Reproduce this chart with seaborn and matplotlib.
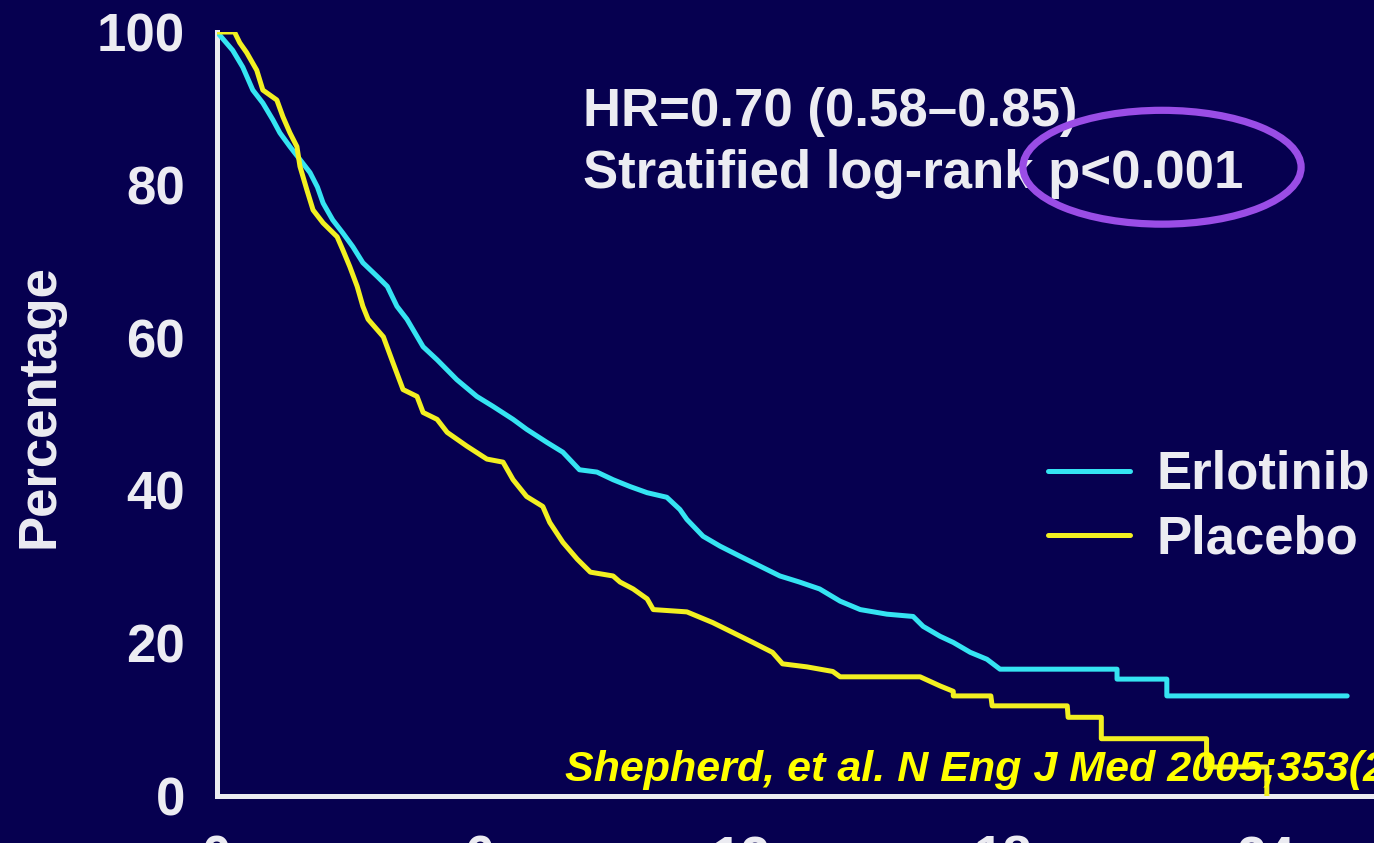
import numpy as np
import pandas as pd
import matplotlib
matplotlib.use("Agg")
import matplotlib.pyplot as plt
from matplotlib.patches import Ellipse
import seaborn as sns

# ---- data: curve vertices (months, % surviving) ----
erlotinib_months = [0, 0.36, 0.59, 0.82, 1.05, 1.28, 1.44, 1.67, 1.90, 2.13, 2.30, 2.43,
                    2.65, 2.88, 3.11, 3.34, 3.67, 3.90, 4.12, 4.35, 4.72, 5.04, 5.49,
                    5.95, 6.32, 6.78, 7.09, 7.55, 7.92, 8.30, 8.70, 9.07, 9.46, 9.85,
                    10.30, 10.60, 10.76, 11.13, 11.52, 11.97, 12.43, 12.89, 13.34,
                    13.80, 14.27, 14.73, 15.34, 15.94, 16.17, 16.56, 16.86, 17.25,
                    17.63, 17.93, 20.61, 20.61, 21.75, 21.75, 25.88]
erlotinib_pct = [100, 97.6, 95.4, 92.4, 90.7, 88.5, 86.8, 85.0, 83.3, 81.6, 79.7, 77.6,
                 75.4, 73.7, 71.9, 69.8, 68.0, 66.7, 64.1, 62.4, 58.8, 57.1, 54.5,
                 52.3, 51.0, 49.3, 48.0, 46.3, 45.0, 42.7, 42.4, 41.4, 40.5, 39.7,
                 39.1, 37.5, 36.2, 34.0, 32.7, 31.4, 30.1, 28.8, 28.0,
                 27.1, 25.5, 24.4, 23.8, 23.5, 22.2, 20.9, 20.1, 18.8,
                 17.9, 16.6, 16.6, 15.3, 15.3, 13.1, 13.1]

placebo_months = [0, 0.40, 0.52, 0.68, 0.91, 1.05, 1.37, 1.51, 1.67, 1.83, 1.90, 2.06, 2.20,
                  2.43, 2.75, 2.88, 3.04, 3.21, 3.34, 3.46, 3.81, 4.03, 4.26, 4.58,
                  4.72, 5.04, 5.27, 5.72, 6.18, 6.55, 6.78, 7.09, 7.46, 7.62, 7.92,
                  8.25, 8.55, 9.07, 9.23, 9.53, 9.85, 9.99, 10.76, 11.35, 11.74,
                  12.27, 12.72, 12.95, 13.51, 14.10, 14.27, 16.10, 16.56, 16.86,
                  16.86, 17.72, 17.75, 19.47, 19.49, 20.25, 20.25, 22.66, 22.66,
                  24.04, 24.04]
placebo_pct = [100, 100, 98.6, 97.3, 95.0, 92.4, 91.1, 88.9, 86.8, 85.0, 82.4, 79.3, 76.7,
               75.0, 73.2, 71.5, 69.3, 66.7, 64.1, 62.4, 60.1, 56.7, 53.2, 52.3,
               50.2, 49.3, 47.6, 45.8, 44.1, 43.7, 41.4, 39.2, 37.9, 35.8, 33.2,
               31.0, 29.3, 28.8, 28.0, 27.1, 25.8, 24.4, 24.1, 22.7, 21.6,
               20.1, 18.8, 17.3, 16.9, 16.3, 15.6, 15.6, 14.4, 13.7,
               13.1, 13.1, 11.8, 11.8, 10.3, 10.3, 7.5, 7.5, 3.8,
               3.8, 0.0]

arms = ["Erlotinib", "Placebo"]
x_ticks = [0, 6, 12, 18, 24]
y_ticks = [0, 20, 40, 60, 80, 100]
hr_text = "HR=0.70 (0.58\u20130.85)"
p_text = "Stratified log-rank p<0.001"
citation = "Shepherd, et al. N Eng J Med 2005;353(2):123-32"

df = pd.concat([
    pd.DataFrame({"Month": erlotinib_months, "Percentage": erlotinib_pct, "Arm": arms[0]}),
    pd.DataFrame({"Month": placebo_months, "Percentage": placebo_pct, "Arm": arms[1]}),
], ignore_index=True)

# ---- style ----
BG = "#060050"
FG = "#ECECF2"
CYAN = "#35E4F2"
YELLOW = "#F2F021"
PURPLE = "#9A4DE6"

sns.set_theme(style="white")
plt.rcParams["font.family"] = ["Liberation Sans", "DejaVu Sans"]
plt.rcParams["font.weight"] = "bold"

fig = plt.figure(figsize=(13.74, 8.43), dpi=100, facecolor=BG)
W, H = 1374, 843
ax_left, ax_right, ax_top, ax_bottom = 217, 1374, 32, 796
ax = fig.add_axes([ax_left / W, 1 - ax_bottom / H,
                   (ax_right - ax_left) / W, (ax_bottom - ax_top) / H])
ax.set_facecolor(BG)

sns.lineplot(data=df, x="Month", y="Percentage", hue="Arm",
             palette={arms[0]: CYAN, arms[1]: YELLOW},
             estimator=None, sort=False,
             linewidth=3.6, ax=ax, zorder=3)

ax.set_xlim(0, (ax_right - ax_left) / 43.67)
ax.set_ylim(0, 100)
ax.set_xticks(x_ticks)
ax.set_yticks(y_ticks)
ax.set_xlabel("")

for s in ["top", "right"]:
    ax.spines[s].set_visible(False)
for s in ["left", "bottom"]:
    ax.spines[s].set_color(FG)
    ax.spines[s].set_linewidth(3.6)
    ax.spines[s].set_zorder(2)

ax.tick_params(axis="both", colors=FG, direction="out", length=13, width=3.2,
               labelsize=38, labelcolor=FG)
ax.tick_params(axis="y", pad=10)
ax.tick_params(axis="x", pad=15)
for lab in ax.get_xticklabels() + ax.get_yticklabels():
    lab.set_fontweight("bold")

ax.set_ylabel("Percentage", fontsize=38, fontweight="bold", color=FG)
ax.yaxis.label.set(ha="center", va="center", rotation_mode="anchor")
ax.yaxis.set_label_coords(-0.153, 0.51)

# annotation texts
ax.text(8.38, 87.7, hr_text, fontsize=38, fontweight="bold", color=FG,
        ha="left", va="baseline", zorder=4)
ax.text(8.38, 79.6, p_text, fontsize=38, fontweight="bold", color=FG,
        ha="left", va="baseline", zorder=4)

ax.add_patch(Ellipse((21.64, 82.3), 6.37, 14.9, fill=False,
                     edgecolor=PURPLE, linewidth=5.2, zorder=5, clip_on=False))

ax.text(7.97, 1.9, citation, fontsize=31, fontweight="bold", fontstyle="italic",
        color="#FFFF00", ha="left", va="baseline", zorder=6, clip_on=False)

# legend
leg = ax.legend(loc="upper left", bbox_to_anchor=(1048 / W, 1 - 450 / H),
                bbox_transform=fig.transFigure, frameon=False, fontsize=38,
                handlelength=1.55, handletextpad=0.5, labelspacing=0.27,
                borderpad=0, borderaxespad=0, title=None)
for t in leg.get_texts():
    t.set_color(FG)
    t.set_fontweight("bold")
for h in leg.get_lines():
    h.set_linewidth(3.6)

fig.savefig("out.png", dpi=100, facecolor=BG)
